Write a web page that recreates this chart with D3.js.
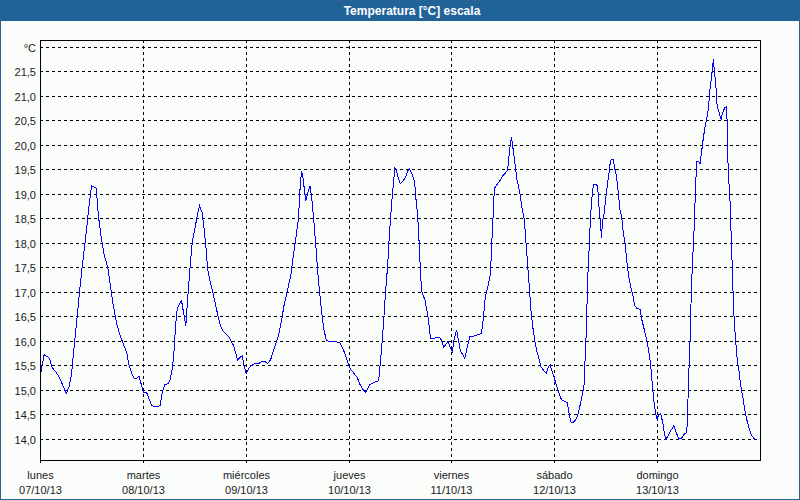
<!DOCTYPE html>
<html>
<head>
<meta charset="utf-8">
<script src="https://cdn.jsdelivr.net/npm/d3@7/dist/d3.min.js"></script>
<style>
  body { margin: 0; background: #fbfdfb; }
  svg { display: block; }
  text { font-family: "Liberation Sans", Arial, sans-serif; }
</style>
</head>
<body>
<script>
// ---------- data ----------
const title = "Temperatura [°C] escala";
const unitLabel = "°C";
const dayNames = ["lunes", "martes", "miércoles", "jueves", "viernes", "sábado", "domingo"];
const dayDates = ["07/10/13", "08/10/13", "09/10/13", "10/10/13", "11/10/13", "12/10/13", "13/10/13"];
const yTicks = [14.0, 14.5, 15.0, 15.5, 16.0, 16.5, 17.0, 17.5, 18.0, 18.5, 19.0, 19.5, 20.0, 20.5, 21.0, 21.5];
const yTop = 22.0;

// hours since lunes 07/10/13 00:00
const hours = [
  0, 0.85, 1.5, 2.1, 2.7, 3.4, 4.2, 5.1, 6.0, 6.6, 7.2, 7.8, 8.5, 9.1, 9.8, 10.5, 11.2, 11.9, 12.5, 13.0,
  13.5, 14.1, 14.8, 15.7, 16.2, 17.0, 17.8, 18.6, 19.5, 20.1, 20.7, 21.4, 21.9, 22.4, 23.0, 23.4,
  24.0, 24.8, 25.2, 25.9, 26.6, 27.3, 27.9, 28.4, 29.0, 29.7, 30.2, 30.8, 31.2, 31.5, 31.9, 32.4, 32.9,
  33.5, 33.9, 34.3, 34.9, 35.4, 36.0, 36.6, 37.1, 37.7, 38.1, 38.6, 39.0, 39.5, 40.2, 40.8, 41.5, 42.0,
  42.6, 43.4, 44.0, 45.1, 45.4, 46.0, 46.6, 47.1, 47.5,
  48.0, 48.5, 49.1, 49.9, 50.9, 51.8, 52.4, 53.0, 53.7, 54.3, 55.1, 55.7, 56.3, 56.8, 57.6, 58.4, 59.0,
  59.6, 60.2, 60.5, 60.9, 61.2, 61.5, 61.9, 62.4, 62.9, 63.3, 63.8, 64.3, 64.7, 65.2, 65.7, 66.1, 66.7,
  67.5, 68.7, 69.8, 70.6, 71.4,
  72.0, 72.5, 73.3, 73.9, 74.5, 75.1, 75.8, 76.2, 76.8, 77.7, 78.9, 79.3, 79.7, 80.1, 80.5, 81.0, 81.4,
  81.9, 82.3, 82.7, 83.0, 83.4, 83.9, 84.5, 85.2, 85.7, 86.1, 86.7, 87.3, 87.6, 88.0, 88.3, 88.6, 88.9,
  89.7, 90.3, 90.7, 91.0, 91.8, 93.0, 93.5, 94.1, 94.8, 95.1, 95.5,
  96.1, 96.5, 97.1, 97.5, 98.0, 98.6, 99.0, 99.6, 100.2, 101.1, 102.0, 102.9, 103.3, 103.8, 104.4, 105.0,
  105.3, 105.6, 105.9, 106.4, 107.1, 107.7, 108.5, 109.0, 109.3, 109.6, 109.9, 110.2, 110.6, 111.2, 111.8,
  112.3, 112.9, 113.3, 113.7, 114.1, 114.5, 114.9, 115.3, 115.8, 116.4, 116.8, 117.4, 118.0, 118.5, 118.9, 119.5,
  120.0, 120.5, 121.1, 121.6, 122.2, 122.9, 123.3, 123.8, 124.3, 124.9, 125.5, 126.0, 126.5, 126.8, 127.0,
  127.3, 127.5, 127.7, 128.0, 128.3, 128.6, 129.0, 129.6, 130.0, 130.3, 130.6, 130.9, 131.1, 131.5, 131.9,
  132.3, 132.7, 133.0, 133.6, 134.0, 134.4, 134.8, 135.2, 135.6, 136.0, 136.4, 136.8, 137.2, 137.7, 138.2,
  138.6, 139.1, 139.9, 140.3, 140.9, 141.4, 142.0, 142.4, 142.8, 143.1, 143.5, 143.9,
  144.2, 144.7, 145.2, 145.6, 145.9, 146.4, 147.0, 147.8, 148.4, 148.9, 149.6, 150.1, 150.8, 151.0, 151.2,
  151.5, 151.7, 151.9, 152.2, 152.5, 152.8, 153.1, 153.6, 153.9, 154.3, 154.6, 155.0, 155.4, 155.8, 156.2,
  156.7, 157.0, 157.3, 157.6, 157.9, 158.3, 158.8, 159.1, 159.6, 160.0, 160.2, 160.3, 160.5, 160.9, 161.1,
  161.3, 161.5, 161.7, 161.9, 162.2, 162.4, 162.6, 163.0, 163.3, 163.6, 164.0, 164.3, 164.7, 165.2, 165.7,
  166.1, 166.6, 166.8
];
const temps = [
  15.32, 15.72, 15.69, 15.65, 15.46, 15.39, 15.29, 15.12, 14.93, 15.05, 15.29, 15.84, 16.45, 17.00, 17.58, 18.09, 18.67, 19.17, 19.15, 19.13,
  18.57, 18.16, 17.78, 17.51, 17.20, 16.72, 16.35, 16.11, 15.90, 15.77, 15.49, 15.32, 15.24, 15.24, 15.29, 15.15,
  14.96, 14.94, 14.85, 14.69, 14.66, 14.66, 14.69, 14.95, 15.11, 15.13, 15.19, 15.46, 15.84, 16.31, 16.66, 16.76, 16.83,
  16.52, 16.31, 16.83, 17.51, 18.02, 18.29, 18.57, 18.77, 18.63, 18.36, 17.92, 17.47, 17.24, 17.00, 16.76, 16.48, 16.31,
  16.21, 16.14, 16.08, 15.90, 15.80, 15.62, 15.67, 15.70, 15.49,
  15.34, 15.43, 15.49, 15.54, 15.54, 15.59, 15.58, 15.54, 15.62, 15.80, 15.99, 16.18, 16.45, 16.72, 17.03, 17.34, 17.75,
  18.12, 18.50, 19.04, 19.47, 19.37, 19.15, 18.87, 19.04, 19.17, 18.91, 18.43, 17.88, 17.41, 16.93, 16.52, 16.25, 16.01,
  15.99, 15.99, 15.97, 15.84, 15.65,
  15.49, 15.41, 15.32, 15.26, 15.12, 15.03, 14.95, 15.00, 15.11, 15.15, 15.19, 15.56, 15.97, 16.45, 17.00, 17.54, 18.16,
  18.77, 19.18, 19.54, 19.51, 19.35, 19.22, 19.26, 19.35, 19.48, 19.52, 19.42, 19.25, 18.91, 18.57, 18.09, 17.54, 17.03,
  16.84, 16.57, 16.30, 16.06, 16.06, 16.08, 16.03, 15.88, 15.96, 15.99, 15.89,
  15.79, 16.03, 16.23, 16.03, 15.79, 15.72, 15.65, 15.89, 16.10, 16.10, 16.13, 16.16, 16.44, 16.91, 17.12, 17.39,
  18.00, 18.54, 19.12, 19.19, 19.26, 19.36, 19.44, 19.50, 19.77, 20.01, 20.16, 19.97, 19.70, 19.29, 19.05,
  18.75, 18.48, 18.00, 17.52, 17.05, 16.57, 16.27, 16.03, 15.79, 15.62, 15.47, 15.40, 15.35, 15.47, 15.52, 15.35,
  15.21, 15.07, 14.90, 14.80, 14.77, 14.75, 14.53, 14.34, 14.34, 14.39, 14.53, 14.73, 14.94, 15.07, 15.48,
  16.10, 16.71, 17.32, 17.86, 18.48, 18.88, 19.19, 19.21, 19.16, 18.75, 18.48, 18.10, 18.41, 18.61, 18.92,
  19.22, 19.46, 19.70, 19.71, 19.53, 19.36, 19.05, 18.68, 18.54, 18.20, 18.00, 17.63, 17.35, 17.12, 16.95,
  16.74, 16.67, 16.65, 16.44, 16.23, 16.03, 15.76, 15.48, 15.07, 14.80, 14.53, 14.39,
  14.50, 14.52, 14.33, 14.09, 14.00, 14.05, 14.16, 14.27, 14.12, 14.00, 14.02, 14.09, 14.14, 14.53, 15.21,
  15.82, 16.50, 17.12, 17.73, 18.27, 19.02, 19.67, 19.67, 19.63, 19.90, 20.11, 20.35, 20.52, 20.72, 21.13,
  21.50, 21.76, 21.47, 21.20, 20.79, 20.69, 20.53, 20.64, 20.76, 20.79, 20.52, 19.97, 19.43, 18.85, 18.31,
  17.80, 17.25, 16.71, 16.37, 16.03, 15.79, 15.59, 15.38, 15.14, 14.97, 14.80, 14.60, 14.43, 14.26, 14.12,
  14.05, 14.00, 13.99
];
const totalHours = 168;

// ---------- drawing ----------
const W = 800, H = 500;
const plot = { left: 40, top: 40, right: 760, bottom: 460 };
const colors = { bar: "#1f6399", frame: "#2a6496", line: "#0000ff", text: "#1a1a1a", grid: "#000000" };

const svg = d3.select("body").append("svg").attr("width", W).attr("height", H);

svg.append("rect").attr("x", 0).attr("y", 0).attr("width", W).attr("height", H).attr("fill", "#fbfdfb");

// title bar
svg.append("rect").attr("x", 0).attr("y", 0).attr("width", W).attr("height", 21).attr("fill", colors.bar);
svg.append("text").attr("x", 412).attr("y", 15).attr("text-anchor", "middle")
  .attr("fill", "#ffffff").attr("font-weight", "bold").attr("font-size", "12px").text(title);

// outer frame
svg.append("rect").attr("x", 0.5).attr("y", 0.5).attr("width", W - 1).attr("height", H - 1)
  .attr("fill", "none").attr("stroke", colors.frame).attr("stroke-width", 1);

const x = d3.scaleLinear().domain([0, totalHours]).range([plot.left + 0.5, plot.right + 0.5]);
const y = d3.scaleLinear().domain([14, 22]).range([439, 47.5]);
const px = v => Math.floor(v) + 0.5;

const g = svg.append("g");

// horizontal grid
const hLines = yTicks.concat([yTop]);
g.selectAll("line.hg").data(hLines).join("line")
  .attr("x1", plot.left).attr("x2", plot.right)
  .attr("y1", d => px(y(d))).attr("y2", d => px(y(d)))
  .attr("stroke", colors.grid).attr("stroke-width", 1).attr("stroke-dasharray", "3,3")
  .attr("shape-rendering", "crispEdges");

// vertical grid (days)
const dayIdx = d3.range(dayNames.length);
g.selectAll("line.vg").data(dayIdx.slice(1)).join("line")
  .attr("x1", d => px(x(d * 24))).attr("x2", d => px(x(d * 24)))
  .attr("y1", plot.top).attr("y2", plot.bottom)
  .attr("stroke", colors.grid).attr("stroke-width", 1).attr("stroke-dasharray", "3,3")
  .attr("shape-rendering", "crispEdges");

// day ticks below axis
g.selectAll("line.tk").data(dayIdx).join("line")
  .attr("x1", d => px(x(d * 24))).attr("x2", d => px(x(d * 24)))
  .attr("y1", plot.bottom).attr("y2", plot.bottom + 3)
  .attr("stroke", colors.grid).attr("shape-rendering", "crispEdges");

// data line
const line = d3.line().x((d, i) => x(hours[i])).y((d, i) => y(temps[i]));
g.append("path").datum(temps).attr("d", line)
  .attr("fill", "none").attr("stroke", colors.line).attr("stroke-width", 1)
  .attr("shape-rendering", "crispEdges");

// plot frame
g.append("rect").attr("x", plot.left + 0.5).attr("y", plot.top + 0.5)
  .attr("width", plot.right - plot.left).attr("height", plot.bottom - plot.top)
  .attr("fill", "none").attr("stroke", "#000").attr("stroke-width", 1)
  .attr("shape-rendering", "crispEdges");

// y labels
const fmt = v => d3.format(".1f")(v).replace(".", ",");
g.selectAll("text.yl").data(yTicks).join("text")
  .attr("x", 36).attr("y", d => px(y(d)) + 4).attr("text-anchor", "end")
  .attr("font-size", "11px").attr("fill", colors.text).text(fmt);
g.append("text").attr("x", 36).attr("y", px(y(yTop)) + 4).attr("text-anchor", "end")
  .attr("font-size", "11px").attr("fill", colors.text).text(unitLabel);

// x labels
g.selectAll("text.dn").data(dayIdx).join("text")
  .attr("x", d => px(x(d * 24))).attr("y", 479).attr("text-anchor", "middle")
  .attr("font-size", "11px").attr("fill", colors.text).text(d => dayNames[d]);
g.selectAll("text.dd").data(dayIdx).join("text")
  .attr("x", d => px(x(d * 24))).attr("y", 494).attr("text-anchor", "middle")
  .attr("font-size", "11px").attr("fill", colors.text).text(d => dayDates[d]);
</script>
</body>
</html>
